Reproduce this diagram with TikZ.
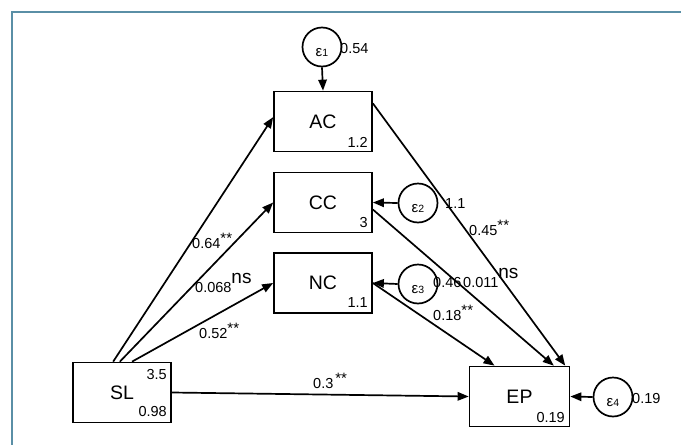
\documentclass[tikz,border=0pt]{standalone}
\usepackage{fontspec}
\setmainfont{Liberation Sans}
\usetikzlibrary{arrows.meta,calc}
\newcommand{\sig}{\raisebox{5pt}{\fontsize{15}{15}\selectfont **}}
\newcommand{\nsup}{\raisebox{9pt}{\fontsize{19}{19}\selectfont ns}}
\newcommand{\eps}[1]{\raisebox{-6pt}[\height][\depth]{\fontsize{15}{15}\selectfont ε{\fontsize{10.5}{10.5}\selectfont #1}}}
\begin{document}
\begin{tikzpicture}[x=1pt,y=-1pt,
  varbox/.style={draw, line width=1.7pt, minimum width=98pt, minimum height=60pt, inner sep=0pt, font=\fontsize{19.5}{20}\selectfont},
  errc/.style={draw, circle, line width=1.7pt, minimum size=39pt, inner sep=0pt},
  lbl/.style={font=\fontsize{14.5}{15}\selectfont, inner sep=0pt},
  pth/.style={line width=1.7pt, -{Triangle[length=11pt,width=8.5pt]}},
  frm/.style={line width=2pt, draw={rgb,255:red,90;green,143;blue,166}}]
\useasboundingbox (0,0) rectangle (681,445);
\draw[frm] (12,445) -- (12,12) -- (681,12);

% boxes
\node[varbox] (AC) at (323,121.5) {AC};
\node[varbox] (CC) at (323,202.5) {CC};
\node[varbox] (NC) at (323,283) {NC};
\node[varbox] (SL) at (122,392.5) {SL};
\node[varbox, minimum width=100pt] (EP) at (519.5,396.5) {EP};

% error terms
\node[errc] (e1) at (322,47) {\eps{1}};
\node[errc] (e2) at (418,203) {\eps{2}};
\node[errc] (e3) at (418,284) {\eps{3}};
\node[errc] (e4) at (613,397) {\eps{4}};

% paths
\draw[pth] (SL.106) -- (AC.175);
\draw[pth] (SL.94) -- (CC.west);
\draw[pth] (SL.72) -- (NC.west);
\draw[pth] (SL.east) -- (EP.west);
\draw[pth] (AC.20) -- (EP.34);
\draw[pth] (CC.-8) -- (EP.42);
\draw[pth] (NC.east) -- (EP.129);
\draw[pth] (e1.south) -- (AC.north);
\draw[pth] (e2.west) -- (CC.east);
\draw[pth] (e3.west) -- (NC.east);
\draw[pth] (e4.west) -- (EP.east);

% box numbers
\node[lbl, anchor=base east] (nAC) at (368,147) {1.2};
\node[lbl, anchor=base east] (nCC) at (368,227) {3};
\node[lbl, anchor=base east] (nNC) at (368,307) {1.1};
\node[lbl, anchor=base east] (nEP) at (565,422) {0.19};
\node[lbl, anchor=base east] (nSLa) at (167,379) {3.5};
\node[lbl, anchor=base east] (nSLb) at (167,416) {0.98};

% error variances
\node[lbl, anchor=base west] (v1) at (340,53) {0.54};
\node[lbl, anchor=base west] (v2) at (445,208) {1.1};
\node[lbl, anchor=base west] (v3) at (433,287) {0.46};
\node[lbl, anchor=base west] (v4) at (632,403) {0.19};

% path coefficients
\node[lbl, anchor=base west] (cAC) at (192,248) {0.64\sig};
\node[lbl, anchor=base west] (cCC) at (195,292) {0.068\nsup};
\node[lbl, anchor=base west] (cNC) at (199,338) {0.52\sig};
\node[lbl, anchor=base west] (cEP) at (313,388) {0.3\kern2pt\sig};
\node[lbl, anchor=base west] (dAC) at (469,235) {0.45\sig};
\node[lbl, anchor=base west] (dCC) at (463,287) {0.011\nsup};
\node[lbl, anchor=base west] (dNC) at (433,320) {0.18\sig};
\end{tikzpicture}
\end{document}
